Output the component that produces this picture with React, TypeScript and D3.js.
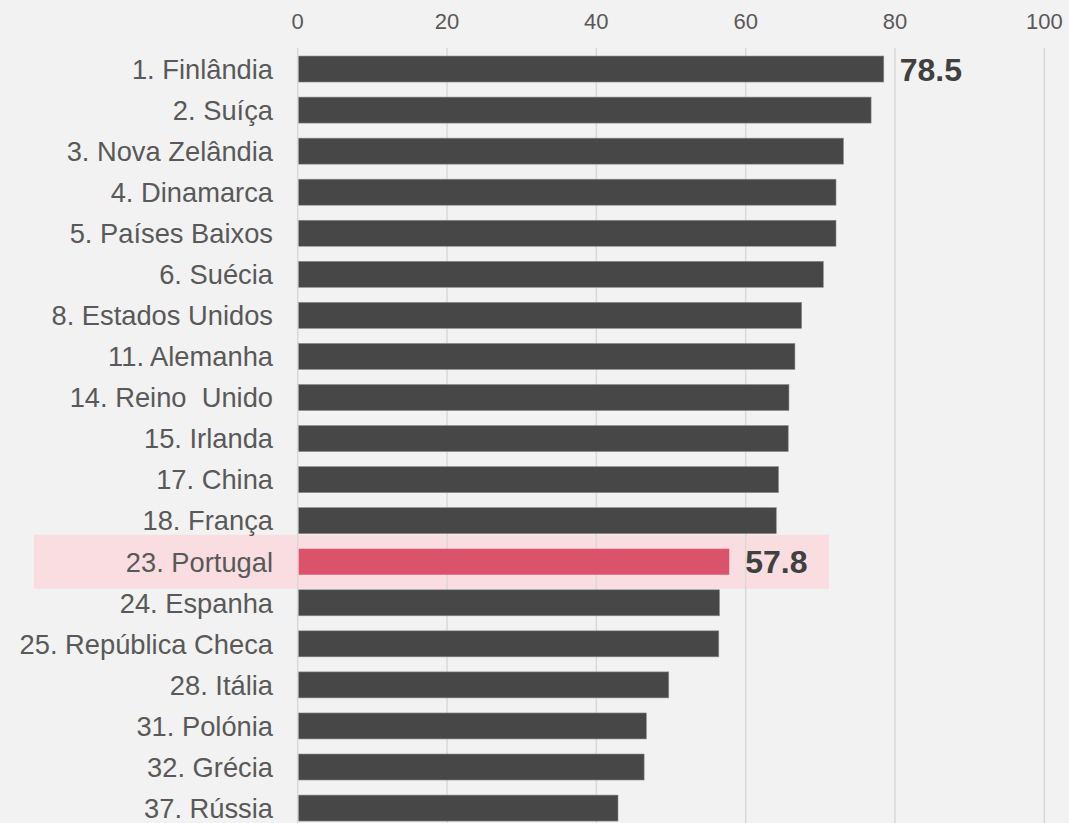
import React from "react";
import * as d3 from "d3";

const categories = [
  "1. Finlândia",
  "2. Suíça",
  "3. Nova Zelândia",
  "4. Dinamarca",
  "5. Países Baixos",
  "6. Suécia",
  "8. Estados Unidos",
  "11. Alemanha",
  "14. Reino  Unido",
  "15. Irlanda",
  "17. China",
  "18. França",
  "23. Portugal",
  "24. Espanha",
  "25. República Checa",
  "28. Itália",
  "31. Polónia",
  "32. Grécia",
  "37. Rússia",
];
const values = [78.5, 76.8, 73.1, 72.1, 72.1, 70.4, 67.5, 66.6, 65.8, 65.7, 64.4, 64.1, 57.8, 56.5, 56.4, 49.7, 46.7, 46.4, 42.9];
const ticks = [0, 20, 40, 60, 80, 100];
const highlight = "23. Portugal";
const labelled = ["1. Finlândia", "23. Portugal"];

const W = 1069;
const H = 823;
const FONT = "'Liberation Sans', Arial, Helvetica, sans-serif";

export default function App() {
  const x = d3.scaleLinear().domain([0, 100]).range([297.7, 1044.3]);
  const y = d3
    .scaleBand<string>()
    .domain(categories)
    .range([48.5, 828.6])
    .paddingInner(0.367)
    .paddingOuter(0.1835);
  const bw = y.bandwidth();
  const hy = (y(highlight) as number) + bw / 2;

  return (
    <svg
      width={W}
      height={H}
      style={{ position: "absolute", left: 0, top: 0, display: "block", fontFamily: FONT }}
    >
      <rect x={0} y={0} width={W} height={H} fill="#f2f2f2" />
      <rect x={34} y={hy - 27} width={829 - 34} height={54} fill="#f9dde1" />
      {ticks.map((t) => (
        <g key={t}>
          <line x1={x(t)} x2={x(t)} y1={48} y2={H} stroke="#d9d9d9" strokeWidth={1.5} />
          <text x={x(t)} y={29} textAnchor="middle" fontSize={22} fill="#595959">
            {t}
          </text>
        </g>
      ))}
      {categories.map((c, i) => {
        const yy = y(c) as number;
        const isH = c === highlight;
        return (
          <g key={c}>
            <rect
              x={x(0) + 1}
              y={yy}
              width={x(values[i]) - x(0) - 1}
              height={bw}
              fill={isH ? "#db536b" : "#474747"}
              stroke={isH ? "none" : "#8c8c8c"}
              strokeWidth={0.6}
            />
            <text
              x={273}
              y={yy + bw / 2}
              dy="0.36em"
              textAnchor="end"
              fontSize={27.3}
              fill="#595959"
              style={{ whiteSpace: "pre" }}
            >
              {c}
            </text>
            {labelled.includes(c) && (
              <text
                x={x(values[i]) + 16}
                y={yy + bw / 2}
                dy="0.36em"
                fontSize={32}
                fontWeight="bold"
                fill="#404040"
              >
                {values[i].toFixed(1)}
              </text>
            )}
          </g>
        );
      })}
    </svg>
  );
}
